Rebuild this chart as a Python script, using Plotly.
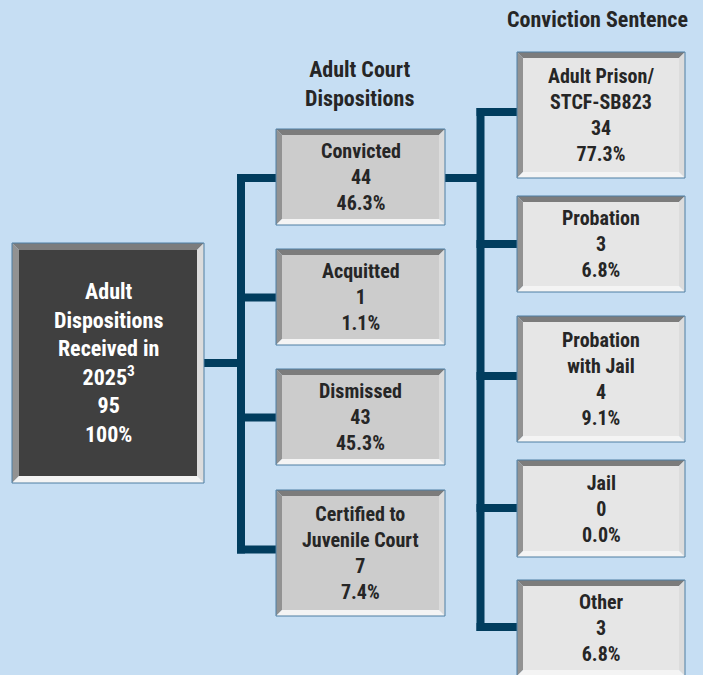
import plotly.graph_objects as go

# ---------------- data ----------------
root_label = "Adult<br>Dispositions<br>Received in<br>2025<sup>3</sup>"
root_count = 95
root_pct = "100%"

disp_labels = ["Convicted", "Acquitted", "Dismissed", "Certified to<br>Juvenile Court"]
disp_counts = [44, 1, 43, 7]
disp_pcts = ["46.3%", "1.1%", "45.3%", "7.4%"]

sent_labels = ["Adult Prison/<br>STCF-SB823", "Probation", "Probation<br>with Jail", "Jail", "Other"]
sent_counts = [34, 3, 4, 0, 3]
sent_pcts = ["77.3%", "6.8%", "9.1%", "0.0%", "6.8%"]

header_mid = "Adult Court<br>Dispositions"
header_right = "Conviction Sentence"

# ---------------- layout (pixel space) ----------------
W, H = 703, 675
BG = "#C6DEF3"
NAVY = "#013D5E"
FONT = "Liberation Sans Narrow, Roboto Condensed, DejaVu Sans Condensed, Arial Narrow, sans-serif"

root_box = (12, 243, 204, 483)
mid_x = (276, 445)
mid_y = [(129, 225), (249, 345), (369, 465), (490, 616)]
mid_branch = [178, 297.5, 417.5, 549.5]
right_x = (517, 685)
right_y = [(52, 178), (196, 292), (316, 442), (460, 557), (580, 676)]
right_branch = [112, 244, 376, 508, 627]
LW = 8

shapes = []


def rect(x0, y0, x1, y1, color):
    shapes.append(dict(type="rect", xref="x", yref="y", x0=x0, y0=y0, x1=x1, y1=y1,
                       fillcolor=color, line=dict(width=0), layer="above"))


def poly(pts, color):
    d = "M " + " L ".join(f"{px},{py}" for px, py in pts) + " Z"
    shapes.append(dict(type="path", xref="x", yref="y", path=d, fillcolor=color,
                       line=dict(width=0), layer="above"))


def bevel_box(x0, y0, x1, y1, face, b=6):
    poly([(x0, y0), (x1, y0), (x1 - b, y0 + b), (x0 + b, y0 + b)], "#7C7C7C")  # top
    poly([(x0, y0), (x0 + b, y0 + b), (x0 + b, y1 - b), (x0, y1)], "#929292")  # left
    poly([(x1, y0), (x1, y1), (x1 - b, y1 - b), (x1 - b, y0 + b)], "#DCDCDC")  # right
    poly([(x0, y1), (x1, y1), (x1 - b, y1 - b), (x0 + b, y1 - b)], "#F4F4F4")  # bottom
    rect(x0 + b, y0 + b, x1 - b, y1 - b, face)
    shapes.append(dict(type="rect", xref="x", yref="y", x0=x0, y0=y0, x1=x1, y1=y1,
                       fillcolor="rgba(0,0,0,0)", line=dict(color="#4F7FA3", width=1),
                       layer="above"))


# connectors (with a faint light edge like the reference)
def connector(x0, y0, x1, y1):
    rect(x0, y0, x1, y1, NAVY)


root_cy = (root_box[1] + root_box[3]) / 2
lv_x = 241
connector(root_box[2], root_cy - LW / 2, lv_x, root_cy + LW / 2)
connector(lv_x - LW / 2, mid_branch[0] - LW / 2, lv_x + LW / 2, mid_branch[-1] + LW / 2)
for by in mid_branch:
    connector(lv_x - LW / 2, by - LW / 2, mid_x[0], by + LW / 2)

rv_x = 480.5
connector(mid_x[1], mid_branch[0] - LW / 2, rv_x, mid_branch[0] + LW / 2)
connector(rv_x - LW / 2, right_branch[0] - LW / 2, rv_x + LW / 2, right_branch[-1] + LW / 2)
for by in right_branch:
    connector(rv_x - LW / 2, by - LW / 2, right_x[0], by + LW / 2)

# boxes
bevel_box(*root_box, face="#404040", b=7)
for (y0, y1) in mid_y:
    bevel_box(mid_x[0], y0, mid_x[1], y1, face="#CCCCCC")
for (y0, y1) in right_y:
    bevel_box(right_x[0], y0, right_x[1], y1, face="#E6E6E6")

annotations = []


def label(x, y, text, color="#262626", size=20):
    annotations.append(dict(x=x, y=y, xref="x", yref="y", text=text, showarrow=False,
                            font=dict(family=FONT, size=size, color=color, weight="bold"),
                            align="center", xanchor="center", yanchor="middle"))


label((root_box[0] + root_box[2]) / 2, root_cy,
      f"{root_label}<br>{root_count}<br>{root_pct}", color="#FFFFFF", size=22)
for (y0, y1), t, c, p in zip(mid_y, disp_labels, disp_counts, disp_pcts):
    label(sum(mid_x) / 2, (y0 + y1) / 2, f"{t}<br>{c}<br>{p}")
for (y0, y1), t, c, p in zip(right_y, sent_labels, sent_counts, sent_pcts):
    label(sum(right_x) / 2, (y0 + y1) / 2, f"{t}<br>{c}<br>{p}")

label(359, 84, header_mid, size=22)
label(597, 19, header_right, size=22)

fig = go.Figure()
fig.add_trace(go.Scatter(x=[0, W], y=[0, H], mode="markers", marker=dict(opacity=0),
                         hoverinfo="skip", showlegend=False))
fig.update_layout(
    width=W, height=H, margin=dict(l=0, r=0, t=0, b=0),
    paper_bgcolor=BG, plot_bgcolor=BG,
    xaxis=dict(range=[0, W], visible=False, fixedrange=True),
    yaxis=dict(range=[H, 0], visible=False, fixedrange=True),
    shapes=shapes, annotations=annotations, showlegend=False,
)
fig.write_html("out.html", config={"displayModeBar": False},
               post_script="document.body.style.margin='0';document.body.style.overflow='hidden';document.body.style.background='" + BG + "';")
